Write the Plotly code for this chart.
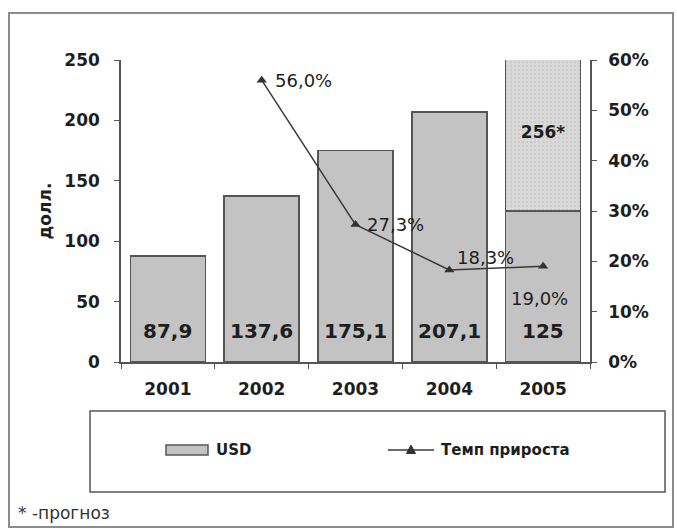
import plotly.graph_objects as go

# Data
years = ["2001", "2002", "2003", "2004", "2005"]
usd = [87.9, 137.6, 175.1, 207.1, 125]
forecast_total_2005 = 256
growth_years = ["2002", "2003", "2004", "2005"]
growth_pct = [56.0, 27.3, 18.3, 19.0]
left_ticks = [0, 50, 100, 150, 200, 250]
right_ticks = [0, 10, 20, 30, 40, 50, 60]
legend_bar = "USD"
legend_line = "Темп прироста"
footnote = "* -прогноз"

FONT = "DejaVu Sans, Verdana, sans-serif"
DARK = "#1e1e1e"
BAR_FILL = "#c3c3c3"
BAR_LINE = "#555555"
LINE_COLOR = "#3a3a3a"

# plot area in pixels (used to place the hand-drawn legend and frame)
PL, PR, PT, PB = 121, 590, 60, 362


def xp(px):
    return (px - PL) / (PR - PL)


def yp(py):
    return (PB - py) / (PB - PT)


def num(v):
    return str(int(v)) if float(v).is_integer() else f"{v:.1f}".replace(".", ",")


def pct(v):
    return f"{v:.1f}".replace(".", ",") + "%"


def cat(year):
    # annotations on a category axis take the category index
    return years.index(year)


fig = go.Figure()

# Actual values
fig.add_trace(go.Bar(
    x=years, y=usd, name=legend_bar,
    marker=dict(color=BAR_FILL, line=dict(color=BAR_LINE, width=1.5)),
))

# Forecast part of 2005 stacked on top of the actual value
fig.add_trace(go.Bar(
    x=["2005"], y=[forecast_total_2005 - usd[-1]], name="прогноз",
    marker=dict(color="#d6d6d6", line=dict(color=BAR_LINE, width=1.5),
                pattern=dict(shape=".", bgcolor="#d9d9d9", fgcolor="#bdbdbd",
                             size=4, solidity=0.3)),
    text=[f"{forecast_total_2005}*"], textposition="inside",
    insidetextanchor="middle",
    textfont=dict(family=FONT, size=17, color=DARK, weight="bold"),
))

# Growth rate line on the secondary axis
fig.add_trace(go.Scatter(
    x=growth_years, y=[g / 100 for g in growth_pct], yaxis="y2",
    name=legend_line, mode="lines+markers",
    line=dict(color=LINE_COLOR, width=1.5),
    marker=dict(symbol="triangle-up", size=9, color="#333333"),
))

annotations = []
# Value labels near the base of each bar
for x, v in zip(years, usd):
    annotations.append(dict(
        x=cat(x), y=0, xref="x", yref="y", text=num(v), showarrow=False,
        yanchor="bottom", yshift=17,
        font=dict(family=FONT, size=20, color=DARK, weight="bold"),
    ))

# Growth rate labels
label_pos = {
    "2002": dict(xanchor="left", yanchor="middle", xshift=11, yshift=0),
    "2003": dict(xanchor="left", yanchor="middle", xshift=9, yshift=0),
    "2004": dict(xanchor="left", yanchor="middle", xshift=6, yshift=12),
    "2005": dict(xanchor="center", yanchor="middle", xshift=-4, yshift=-32),
}
for x, g in zip(growth_years, growth_pct):
    annotations.append(dict(
        x=cat(x), y=g / 100, xref="x", yref="y2", text=pct(g), showarrow=False,
        font=dict(family=FONT, size=18, color=DARK), **label_pos[x],
    ))

# Legend entries (drawn by hand for the wide bar swatch)
legend_y = 450
annotations.append(dict(
    x=xp(214), y=yp(legend_y), xref="paper", yref="paper", text=legend_bar,
    showarrow=False, xanchor="left", yanchor="middle",
    font=dict(family=FONT, size=15, color=DARK, weight="bold"),
))
annotations.append(dict(
    x=xp(439), y=yp(legend_y), xref="paper", yref="paper", text=legend_line,
    showarrow=False, xanchor="left", yanchor="middle",
    font=dict(family=FONT, size=15, color=DARK, weight="bold"),
))

# Footnote
annotations.append(dict(
    x=xp(16), y=yp(513), xref="paper", yref="paper", text=footnote,
    showarrow=False, xanchor="left", yanchor="middle",
    font=dict(family=FONT, size=17, color="#333333"),
))

tri_x, tri_y = 411, legend_y
shapes = [
    # outer chart frame
    dict(type="rect", xref="paper", yref="paper",
         x0=xp(9), x1=xp(673), y0=yp(527), y1=yp(13),
         line=dict(color="#8c8c8c", width=2), layer="below"),
    # legend box
    dict(type="rect", xref="paper", yref="paper",
         x0=xp(90), x1=xp(665), y0=yp(492), y1=yp(411),
         line=dict(color="#555555", width=1.5), layer="below"),
    # legend: bar swatch
    dict(type="rect", xref="paper", yref="paper",
         x0=xp(166), x1=xp(208), y0=yp(legend_y + 5), y1=yp(legend_y - 5),
         fillcolor=BAR_FILL, line=dict(color=BAR_LINE, width=1.5)),
    # legend: line sample with a triangle marker
    dict(type="line", xref="paper", yref="paper",
         x0=xp(388), x1=xp(434), y0=yp(legend_y), y1=yp(legend_y),
         line=dict(color=LINE_COLOR, width=1.5)),
    dict(type="path", xref="paper", yref="paper",
         path=(f"M {xp(tri_x - 4.5)},{yp(tri_y + 3.5)} "
               f"L {xp(tri_x + 4.5)},{yp(tri_y + 3.5)} "
               f"L {xp(tri_x)},{yp(tri_y - 5)} Z"),
         fillcolor="#333333", line=dict(color="#333333", width=1)),
]

axis_font = dict(family=FONT, size=17, color=DARK, weight="bold")

fig.update_layout(
    width=677, height=529,
    margin=dict(l=PL, r=677 - PR, t=PT, b=529 - PB),
    paper_bgcolor="white", plot_bgcolor="white",
    barmode="stack", bargap=0.2, showlegend=False,
    font=dict(family=FONT, color=DARK),
    xaxis=dict(
        type="category", categoryorder="array", categoryarray=years,
        range=[-0.5, len(years) - 0.5], showline=True,
        linecolor="#555555", linewidth=1.5,
        ticks="outside", tickson="boundaries", ticklen=5, tickcolor="#555555",
        tickfont=axis_font, ticklabelstandoff=11, showgrid=False,
    ),
    yaxis=dict(
        range=[0, 250], tickvals=left_ticks, showline=True,
        linecolor="#555555", linewidth=1.5, ticks="outside", ticklen=5,
        tickcolor="#555555", tickfont=axis_font, ticklabelstandoff=11,
        showgrid=False, zeroline=False,
        title=dict(text="долл.", standoff=8,
                   font=dict(family=FONT, size=17, color=DARK, weight="bold")),
    ),
    yaxis2=dict(
        range=[0, 0.6], tickvals=[t / 100 for t in right_ticks],
        ticktext=[f"{t}%" for t in right_ticks], overlaying="y", side="right",
        showline=True, linecolor="#555555", linewidth=1.5, ticks="outside",
        ticklen=5, tickcolor="#555555", tickfont=axis_font,
        ticklabelstandoff=8, showgrid=False, zeroline=False,
    ),
    annotations=annotations,
    shapes=shapes,
)

fig.write_html("out.html")
